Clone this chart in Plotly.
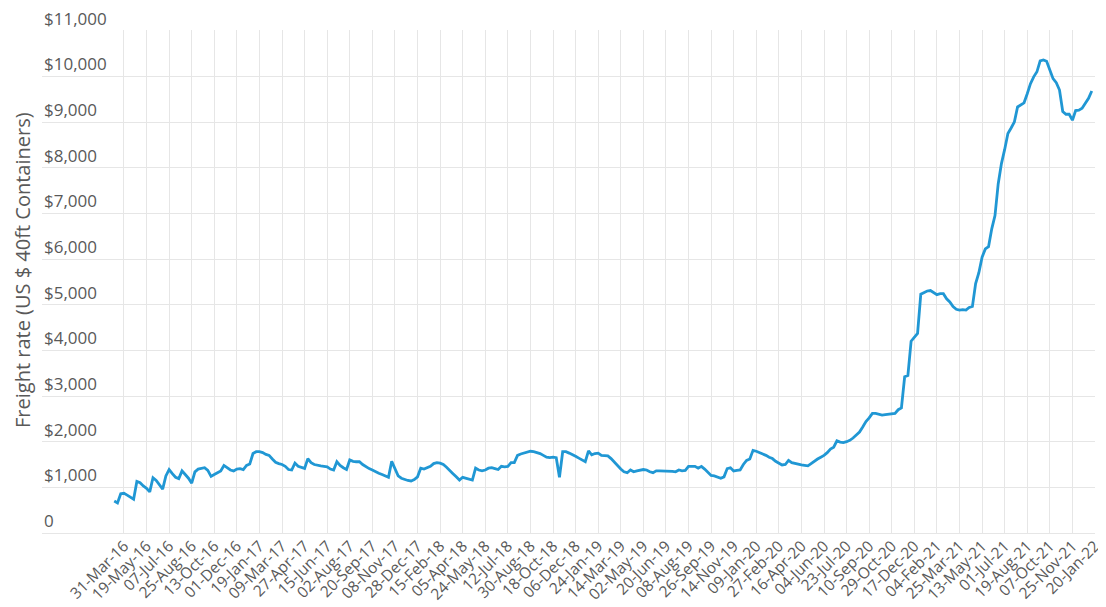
import plotly.graph_objects as go

# Weekly freight rate readings (US $ per 40ft container), in order
freight_rate = [
    700, 660, 860, 870, 830, 790, 740, 1130, 1100, 1030,
    980, 900, 1210, 1150, 1060, 960, 1250, 1390, 1300, 1220,
    1190, 1360, 1280, 1200, 1090, 1340, 1400, 1420, 1430, 1370,
    1240, 1280, 1330, 1360, 1480, 1420, 1380, 1360, 1400, 1410,
    1390, 1480, 1510, 1740, 1780, 1780, 1760, 1720, 1700, 1620,
    1550, 1520, 1500, 1460, 1390, 1380, 1530, 1460, 1440, 1415,
    1630, 1540, 1500, 1480, 1470, 1460, 1450, 1400, 1380, 1560,
    1480, 1430, 1390, 1600, 1570, 1560, 1560, 1500, 1450, 1410,
    1380, 1340, 1310, 1280, 1250, 1220, 1570, 1400, 1250, 1200,
    1170, 1150, 1140, 1170, 1230, 1420, 1400, 1430, 1460, 1520,
    1540, 1530, 1500, 1440, 1380, 1300, 1230, 1160, 1220, 1200,
    1190, 1160, 1420, 1380, 1360, 1380, 1420, 1430, 1410, 1390,
    1460, 1450, 1460, 1540, 1540, 1700, 1730, 1750, 1760, 1790,
    1780, 1760, 1740, 1700, 1660, 1650, 1660, 1650, 1220, 1780,
    1780, 1750, 1720, 1680, 1640, 1600, 1560, 1800, 1710, 1740,
    1750, 1700, 1690, 1690, 1630, 1550, 1480, 1400, 1340, 1320,
    1380, 1340, 1360, 1380, 1390, 1380, 1340, 1320, 1360, 1360,
    1360, 1360, 1360, 1350, 1340, 1380, 1360, 1370, 1460, 1465,
    1460, 1420, 1460, 1400, 1320, 1260, 1250, 1220, 1200, 1230,
    1410, 1430, 1360, 1370, 1380, 1500, 1590, 1620, 1810, 1790,
    1760, 1740, 1700, 1660, 1630, 1570, 1520, 1490, 1500, 1590,
    1540, 1520, 1510, 1490, 1480, 1470, 1520, 1580, 1620, 1660,
    1700, 1760, 1840, 1880, 2020, 1990, 1980, 2000, 2030, 2080,
    2150, 2210, 2320, 2440, 2520, 2620, 2620, 2600, 2580, 2590,
    2600, 2610, 2620, 2700, 2740, 3420, 3450, 4200, 4290, 4370,
    5230, 5260, 5300, 5310, 5260, 5220, 5240, 5240, 5130, 5060,
    4960, 4900, 4880, 4890, 4880, 4940, 4960, 5460, 5700, 6040,
    6220, 6270, 6660, 6950, 7650, 8090, 8400, 8750, 8870, 9000,
    9330, 9380, 9420, 9620, 9840, 9990, 10100, 10340, 10360, 10330,
    10150, 9950, 9860, 9700, 9230, 9170, 9170, 9040, 9250, 9260,
    9300, 9400, 9520, 9680,
]

# Category tick labels (every 7th week)
tick_labels = [
    "31-Mar-16", "19-May-16", "07-Jul-16", "25-Aug-16", "13-Oct-16", "01-Dec-16",
    "19-Jan-17", "09-Mar-17", "27-Apr-17", "15-Jun-17", "02-Aug-17", "20-Sep-17",
    "08-Nov-17", "28-Dec-17", "15-Feb-18", "05-Apr-18", "24-May-18", "12-Jul-18",
    "30-Aug-18", "18-Oct-18", "06-Dec-18", "24-Jan-19", "14-Mar-19", "02-May-19",
    "20-Jun-19", "08-Aug-19", "26-Sep-19", "14-Nov-19", "09-Jan-20", "27-Feb-20",
    "16-Apr-20", "04-Jun-20", "23-Jul-20", "10-Sep-20", "29-Oct-20", "17-Dec-20",
    "04-Feb-21", "25-Mar-21", "13-May-21", "01-Jul-21", "19-Aug-21", "07-Oct-21",
    "25-Nov-21", "20-Jan-22",
]
first_tick_index = 3
tick_step = 7

y_tick_values = list(range(0, 11001, 1000))
y_tick_labels = ["0"] + [f"${v:,}" for v in y_tick_values[1:]]

x_index = list(range(len(freight_rate)))
tick_positions = [first_tick_index + tick_step * k for k in range(len(tick_labels))]

text_color = "#595959"
grid_color = "#E6E6E6"
font_family = "Open Sans, Noto Sans, sans-serif"

fig = go.Figure()
fig.add_trace(go.Scatter(
    x=x_index, y=freight_rate, mode="lines",
    line=dict(color="#2097D4", width=2.8),
    hoverinfo="y", showlegend=False,
))

# y tick labels sit above their gridlines, left-aligned
for v, lab in zip(y_tick_values, y_tick_labels):
    fig.add_annotation(
        x=0, xref="paper", y=v, yref="y", text=lab, showarrow=False,
        xanchor="left", yanchor="bottom", xshift=0, yshift=-1,
        font=dict(size=17, color=text_color, family=font_family),
    )

fig.add_annotation(
    x=-0.018, xref="paper", y=0.523, yref="paper",
    text="Freight rate (US $ 40ft Containers)", textangle=-90, showarrow=False,
    xanchor="center", yanchor="middle", borderpad=0,
    font=dict(size=20, color=text_color, family=font_family),
)

# the page body adds an 8px offset, so the figure is 8px smaller on each axis
fig.update_layout(
    width=1098, height=599,
    margin=dict(l=34, r=11, t=22, b=74),
    paper_bgcolor="white", plot_bgcolor="white",
    font=dict(family=font_family, color=text_color),
    xaxis=dict(
        range=[-22.4, 304], automargin=False,
        tickmode="array", tickvals=tick_positions, ticktext=tick_labels,
        tickangle=-45, tickfont=dict(size=15.5, color=text_color),
        showgrid=True, gridcolor=grid_color, gridwidth=1,
        zeroline=False, showline=False, ticks="",
    ),
    yaxis=dict(
        range=[0, 11015], automargin=False,
        tickmode="array", tickvals=y_tick_values,
        showticklabels=False,
        showgrid=True, gridcolor=grid_color, gridwidth=1,
        zeroline=True, zerolinecolor=grid_color, zerolinewidth=1,
        showline=False, ticks="",
    ),
)

fig.write_html("out.html")
